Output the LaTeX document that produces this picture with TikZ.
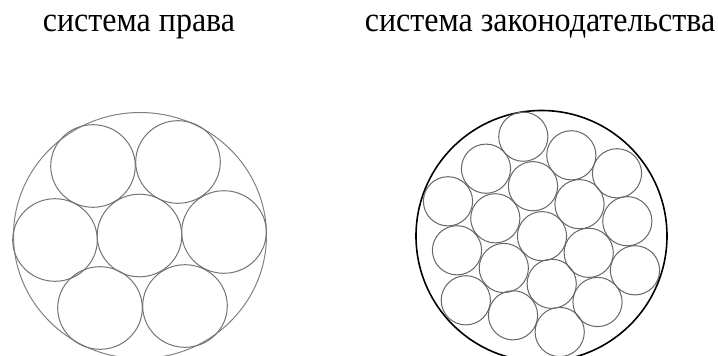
\documentclass[tikz,border=0pt]{standalone}
\usepackage{fontspec}
\setmainfont{Liberation Serif}
\begin{document}
\begin{tikzpicture}[x=1pt,y=-1pt,
  lbl/.style={font=\fontsize{32}{36}\selectfont, inner sep=0pt, anchor=base},
  outerA/.style={draw=black!50, line width=1pt},
  innerA/.style={draw=black!55, line width=1pt},
  outerB/.style={draw=black, line width=1.6pt},
  innerB/.style={draw=black!60, line width=1pt}]
\useasboundingbox (0,0) rectangle (718,356);
\node[lbl] (t1) at (139,31) {\scalebox{1}[1.09]{система права}};
\node[lbl] (t2) at (540,31) {\scalebox{1}[1.09]{система законодательства}};
% left system
\draw[outerA] (140,235.5) ellipse [x radius=126.5, y radius=123];
\foreach \x/\y in {93/166, 178/162, 55/240, 139.5/235.5, 224/232, 100/308, 185/306}
  \draw[innerA] (\x,\y) ellipse [x radius=42.3, y radius=41.3];
% right system
\draw[outerB] (541.5,236) circle [radius=125.5];
\foreach \x/\y in {523.3/136.7, 571.3/155.3, 617/173.3,
  486/168.7, 533/186.2, 579.5/204.2, 627.3/221.2,
  448/201.3, 495.3/218.3, 542/236.2, 588.7/252.8, 635/270.3,
  457/250.3, 503.8/268, 551.7/283.8, 597.5/302,
  465.8/300.3, 513/315.3, 559.7/332}
  \draw[innerB] (\x,\y) circle [radius=24.6];
\end{tikzpicture}
\end{document}
